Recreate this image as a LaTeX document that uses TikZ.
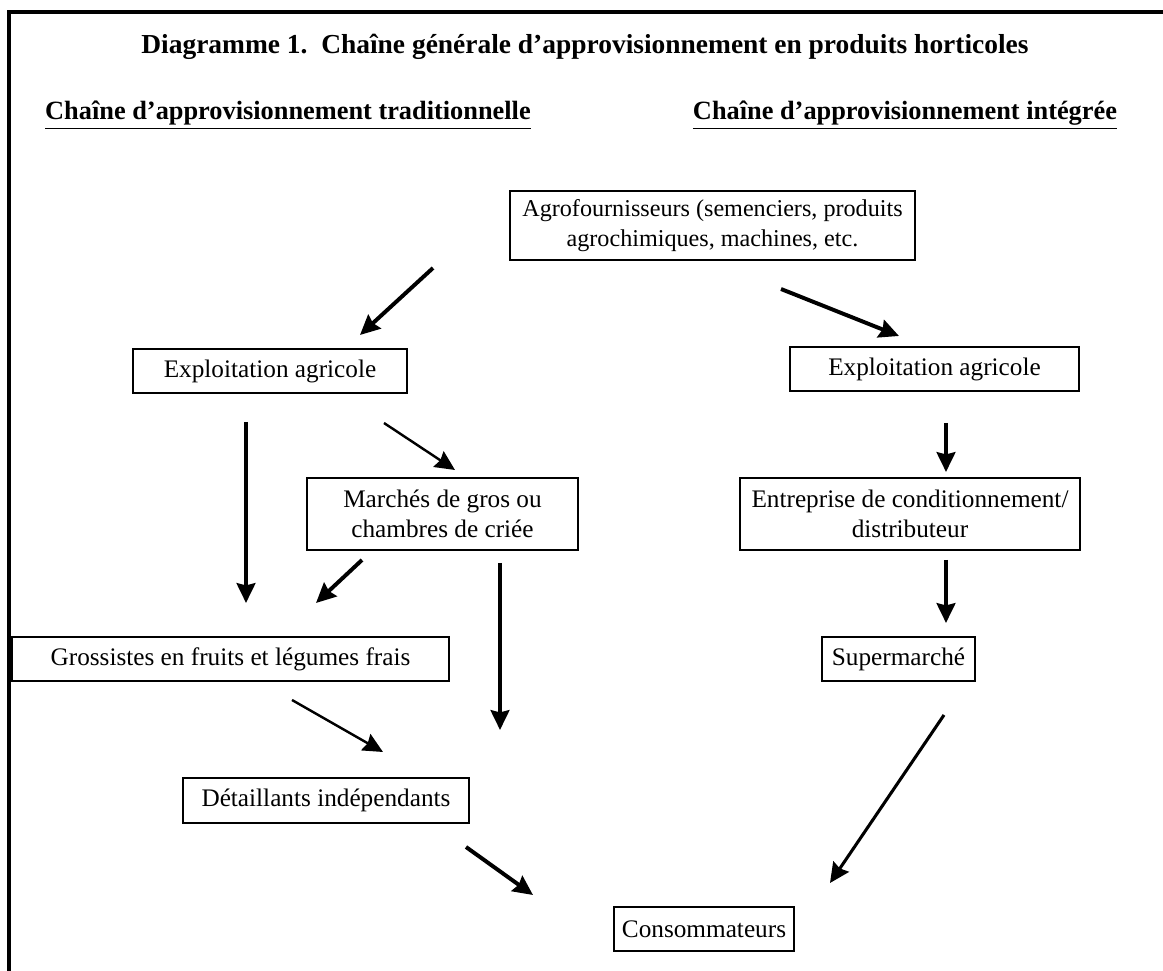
\documentclass[tikz,border=0pt]{standalone}
\usepackage{fontspec}
\setmainfont{Liberation Serif}
\usetikzlibrary{arrows.meta}
\newdimen\pxu \pxu=0.016cm
\tikzset{
  x=0.016cm, y=-0.016cm,
  box/.style={draw, line width=1.0pt, inner sep=0pt, align=center,
    font=\fontsize{11.5}{13.5}\selectfont},
  head/.style={font=\bfseries\fontsize{12.5}{14}\selectfont},
  subhead/.style={font=\bfseries\fontsize{12}{14}\selectfont},
  tip/.style={-{Stealth[inset=1pt,length=9pt,width=8.5pt]}},
  flow/.style={tip, line width=1.8pt},
  thinflow/.style={tip, line width=1.1pt},
  midflow/.style={tip, line width=1.4pt},
}
\begin{document}
\begin{tikzpicture}
\useasboundingbox (0,0) rectangle (1163,971);
% outer frame (open to the right and bottom)
\draw[line width=1.6pt] (9,971) -- (9,12) -- (1163,12);

% headings
\node[head] (title) at (585,47) {Diagramme 1.\ \ Chaîne générale d’approvisionnement en produits horticoles};
\node[subhead] (subl) at (288,115) {\underline{Chaîne d’approvisionnement traditionnelle}};
\node[subhead] (subr) at (905,115) {\underline{Chaîne d’approvisionnement intégrée}};

% boxes
\node[box, font=\fontsize{11}{13.5}\selectfont, minimum width=405*\pxu, minimum height=69*\pxu] (agro) at (712.5,225.5)
  {Agrofournisseurs (semenciers, produits\\agrochimiques, machines, etc.};
\node[box, minimum width=274*\pxu, minimum height=44*\pxu] (expl) at (270,371) {Exploitation agricole};
\node[box, minimum width=289*\pxu, minimum height=44*\pxu] (expr) at (934.5,369) {Exploitation agricole};
\node[box, minimum width=271*\pxu, minimum height=72*\pxu] (march) at (442.5,514)
  {Marchés de gros ou\\chambres de criée};
\node[box, minimum width=340*\pxu, minimum height=72*\pxu] (entr) at (910,514)
  {Entreprise de conditionnement/\\distributeur};
\node[box, minimum width=437*\pxu, minimum height=44*\pxu] (gross) at (230.5,659) {Grossistes en fruits et légumes frais};
\node[box, minimum width=153*\pxu, minimum height=44*\pxu] (super) at (898.5,659) {Supermarché};
\node[box, minimum width=286*\pxu, minimum height=45*\pxu] (detail) at (326,800.5) {Détaillants indépendants};
\node[box, minimum width=180*\pxu, minimum height=44*\pxu] (conso) at (704,929) {Consommateurs};

% connector ends
\coordinate (a0) at (433,268); \coordinate (a1) at (360,335);
\coordinate (b0) at (781,289); \coordinate (b1) at (899,336);
\coordinate (c0) at (246,422); \coordinate (c1) at (246,603);
\coordinate (d0) at (384,423); \coordinate (d1) at (455,470);
\coordinate (e0) at (946,423); \coordinate (e1) at (946,472);
\coordinate (f0) at (362,560); \coordinate (f1) at (316,603);
\coordinate (g0) at (500,563); \coordinate (g1) at (500,730);
\coordinate (h0) at (946,560); \coordinate (h1) at (946,623);
\coordinate (i0) at (292,700); \coordinate (i1) at (383,752);
\coordinate (j0) at (944,715); \coordinate (j1) at (830,883);
\coordinate (k0) at (466,847); \coordinate (k1) at (533,895);

% flows
\draw[flow] (a0) -- (a1);
\draw[flow] (b0) -- (b1);
\draw[flow] (c0) -- (c1);
\draw[thinflow] (d0) -- (d1);
\draw[flow] (e0) -- (e1);
\draw[flow] (f0) -- (f1);
\draw[flow] (g0) -- (g1);
\draw[flow] (h0) -- (h1);
\draw[thinflow] (i0) -- (i1);
\draw[midflow] (j0) -- (j1);
\draw[flow] (k0) -- (k1);
\end{tikzpicture}
\end{document}
